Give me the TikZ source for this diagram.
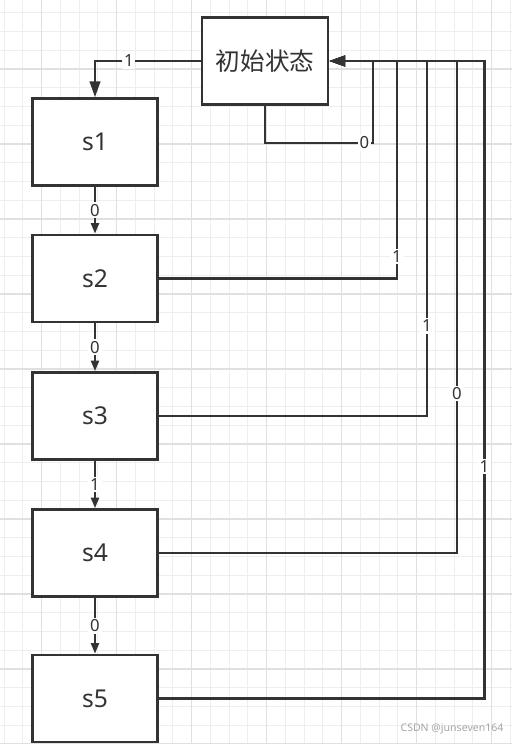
\documentclass[tikz,border=0pt]{standalone}
\usepackage{fontspec}
\setmainfont{Noto Sans}
\newfontfamily\cjk{Noto Sans CJK SC}
\usetikzlibrary{arrows.meta}
\definecolor{ink}{HTML}{333333}
\definecolor{gridminor}{HTML}{EEEEEE}
\definecolor{gridmajor}{HTML}{E0E0E0}

\begin{document}
\begin{tikzpicture}[x=0.02cm, y=-0.02cm]
\tikzstyle{statebox}=[draw=ink, line width=1.5pt, rectangle, minimum width=2.5cm, minimum height=1.74cm, fill=white, text=ink, font=\fontsize{14}{16}\selectfont]
\tikzstyle{line}=[draw=ink, line width=1.3pt, -{Triangle[length=9pt,width=6pt]}]
\tikzstyle{flow}=[draw=ink, line width=1.3pt, -{Triangle[length=6pt,width=4.5pt]}]
\tikzstyle{cond}=[fill=white, inner sep=1pt, text=ink, font=\fontsize{9.5}{11}\selectfont]

% Background grid
\useasboundingbox (0,0) rectangle (512,744);
\fill[white] (0,0) rectangle (512,744);
\foreach \gx in {4.17,22.92,...,512} \draw[gridminor, line width=0.5pt] (\gx,0) -- (\gx,744);
\foreach \gy in {12.75,31.5,...,744} \draw[gridminor, line width=0.5pt] (0,\gy) -- (512,\gy);
\foreach \gx in {41.67,116.67,...,512} \draw[gridmajor, line width=0.6pt] (\gx,0) -- (\gx,744);
\foreach \gy in {69,144,...,744} \draw[gridmajor, line width=0.6pt] (0,\gy) -- (512,\gy);

% Define states
\node[statebox, minimum width=2.52cm] (init) at (265,61) {\cjk 初始状态};
\node[statebox] (s1) at (95,142) {s1};
\node[statebox] (s2) at (95,278.5) {s2};
\node[statebox] (s3) at (95,416) {s3};
\node[statebox] (s4) at (95,553) {s4};
\node[statebox] (s5) at (95,698.5) {s5};

% Bus corners
\coordinate (b0) at (373,143);
\coordinate (b2) at (397,61);
\coordinate (b3) at (427,61);
\coordinate (b4) at (457,61);
\coordinate (b5) at (484.5,61);

% Transitions down the chain
\draw[line] (init.west) -| node[cond, pos=0.34] {1} (s1.north);
\draw[flow] (s1) -- node[cond] {0} (s2);
\draw[flow] (s2) -- node[cond] {0} (s3);
\draw[flow] (s3) -- node[cond] {1} (s4);
\draw[flow] (s4) -- node[cond] {0} (s5);

% Transitions back to the start
\draw[line] (init.south) |- node[cond, pos=0.96] {0} (b0) |- (init.east);
\draw[line] (s2.east) -| node[cond, pos=0.551] {1} (b2) -- (init.east);
\draw[line] (s3.east) -| node[cond, pos=0.627] {1} (b3) -- (init.east);
\draw[line] (s4.east) -| node[cond, pos=0.662] {0} (b4) -- (init.east);
\draw[line] (s5.east) -| node[cond, pos=0.682] {1} (b5) -- (init.east);

\node[text=gray!70, font=\fontsize{6}{7}\selectfont] (mark) at (452,729) {CSDN @junseven164};
\end{tikzpicture}
\end{document}
